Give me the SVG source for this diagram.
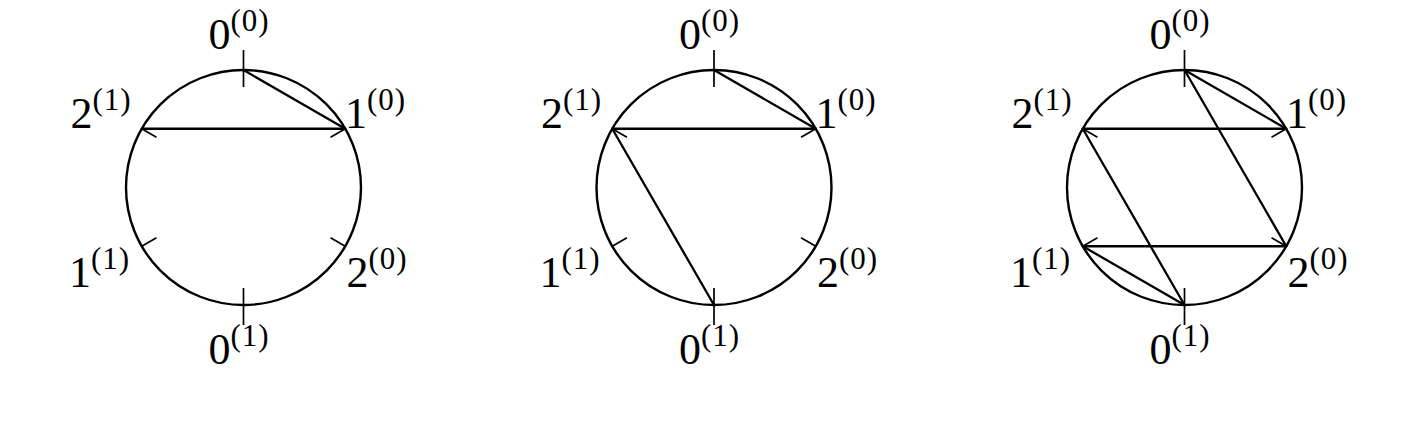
<svg xmlns="http://www.w3.org/2000/svg" xmlns:xlink="http://www.w3.org/1999/xlink" width="1428" height="427" viewBox="0 0 1428 427">
<style>
.ring{fill:none;stroke:#000;stroke-width:2.4}
.tick{stroke:#000;stroke-width:1.7;fill:none}
.chord{stroke:#000;stroke-width:2.3;fill:none;stroke-linecap:round}
.lb{font-family:"Liberation Serif","DejaVu Serif",serif;font-size:44px;fill:#000}
.sp{font-size:31px;letter-spacing:1px}
</style>
<defs>
<g id="base">
<circle class="ring" cx="243.5" cy="187.5" r="117.5"/>
<line class="tick" x1="243.5" y1="50" x2="243.5" y2="87"/>
<line class="tick" x1="243.5" y1="288" x2="243.5" y2="325"/>
<line class="tick" x1="345.26" y1="128.75" x2="330.54" y2="137.25"/>
<line class="tick" x1="345.26" y1="246.25" x2="330.54" y2="237.75"/>
<line class="tick" x1="141.74" y1="246.25" x2="156.46" y2="237.75"/>
<line class="tick" x1="141.74" y1="128.75" x2="156.46" y2="137.25"/>
</g>
</defs>
<g id="diagram1">
<use xlink:href="#base"/>
<g id="d1-n00"><text class="lb" x="208.5" y="49">0<tspan class="sp" dy="-18">(0)</tspan></text></g>
<g id="d1-n10"><text class="lb" x="345" y="128">1<tspan class="sp" dy="-18">(0)</tspan></text></g>
<g id="d1-n20"><text class="lb" x="346.5" y="287">2<tspan class="sp" dy="-18">(0)</tspan></text></g>
<g id="d1-n01"><text class="lb" x="208.5" y="364">0<tspan class="sp" dy="-18">(1)</tspan></text></g>
<g id="d1-n11"><text class="lb" x="69" y="287">1<tspan class="sp" dy="-18">(1)</tspan></text></g>
<g id="d1-n21"><text class="lb" x="70.5" y="128">2<tspan class="sp" dy="-18">(1)</tspan></text></g>
</g>
<g id="diagram2" transform="translate(470.5,0)">
<use xlink:href="#base"/>
<g id="d2-n00"><text class="lb" x="208.5" y="49">0<tspan class="sp" dy="-18">(0)</tspan></text></g>
<g id="d2-n10"><text class="lb" x="345" y="128">1<tspan class="sp" dy="-18">(0)</tspan></text></g>
<g id="d2-n20"><text class="lb" x="346.5" y="287">2<tspan class="sp" dy="-18">(0)</tspan></text></g>
<g id="d2-n01"><text class="lb" x="208.5" y="364">0<tspan class="sp" dy="-18">(1)</tspan></text></g>
<g id="d2-n11"><text class="lb" x="69" y="287">1<tspan class="sp" dy="-18">(1)</tspan></text></g>
<g id="d2-n21"><text class="lb" x="70.5" y="128">2<tspan class="sp" dy="-18">(1)</tspan></text></g>
</g>
<g id="diagram3" transform="translate(941,0)">
<use xlink:href="#base"/>
<g id="d3-n00"><text class="lb" x="208.5" y="49">0<tspan class="sp" dy="-18">(0)</tspan></text></g>
<g id="d3-n10"><text class="lb" x="345" y="128">1<tspan class="sp" dy="-18">(0)</tspan></text></g>
<g id="d3-n20"><text class="lb" x="346.5" y="287">2<tspan class="sp" dy="-18">(0)</tspan></text></g>
<g id="d3-n01"><text class="lb" x="208.5" y="364">0<tspan class="sp" dy="-18">(1)</tspan></text></g>
<g id="d3-n11"><text class="lb" x="69" y="287">1<tspan class="sp" dy="-18">(1)</tspan></text></g>
<g id="d3-n21"><text class="lb" x="70.5" y="128">2<tspan class="sp" dy="-18">(1)</tspan></text></g>
</g>
<g id="connectors">
<g id="c1">
<line class="chord" x1="243.5" y1="70" x2="345.26" y2="128.75"/>
<line class="chord" x1="141.74" y1="128.75" x2="345.26" y2="128.75"/>
</g>
<g id="c2" transform="translate(470.5,0)">
<line class="chord" x1="243.5" y1="70" x2="345.26" y2="128.75"/>
<line class="chord" x1="141.74" y1="128.75" x2="345.26" y2="128.75"/>
<line class="chord" x1="141.74" y1="128.75" x2="243.5" y2="305"/>
</g>
<g id="c3" transform="translate(941,0)">
<line class="chord" x1="243.5" y1="70" x2="345.26" y2="128.75"/>
<line class="chord" x1="141.74" y1="128.75" x2="345.26" y2="128.75"/>
<line class="chord" x1="141.74" y1="128.75" x2="243.5" y2="305"/>
<line class="chord" x1="243.5" y1="70" x2="345.26" y2="246.25"/>
<line class="chord" x1="141.74" y1="246.25" x2="345.26" y2="246.25"/>
<line class="chord" x1="141.74" y1="246.25" x2="243.5" y2="305"/>
</g>
</g>
</svg>
